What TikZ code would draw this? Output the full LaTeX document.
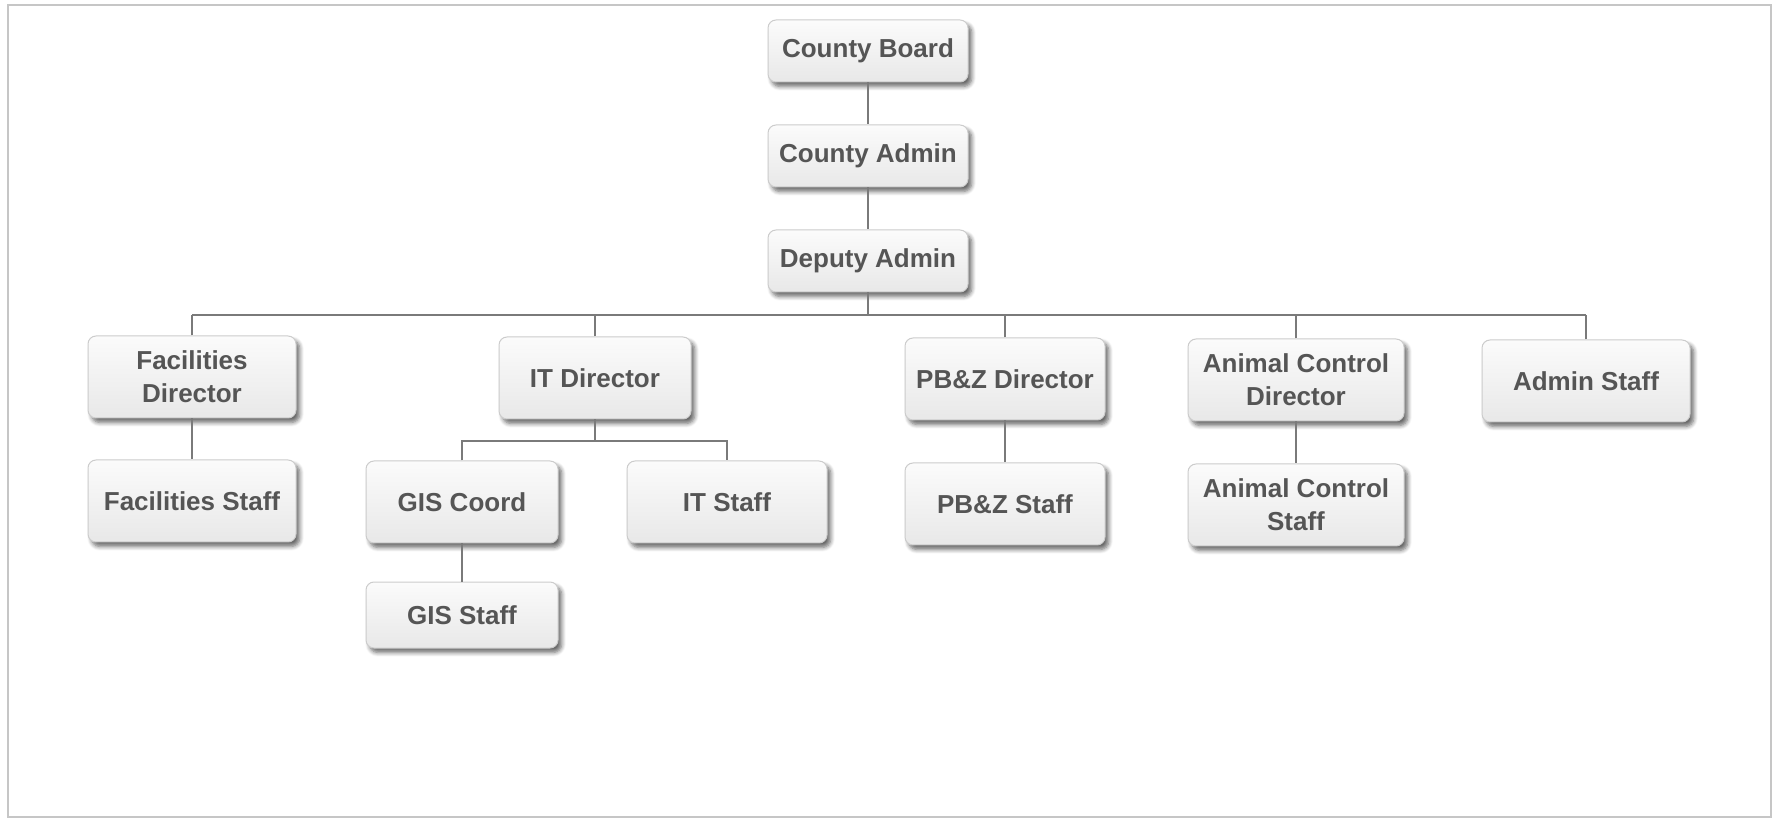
\documentclass[tikz,border=0pt]{standalone}
\usepackage{fontspec}
\setmainfont{Liberation Sans}
\usetikzlibrary{shadows,shadows.blur}
\definecolor{inkgray}{HTML}{555555}
\definecolor{linegray}{HTML}{7A7A7A}
\tikzset{
  orgbox/.style={rounded corners=4pt, draw=gray!40, line width=0.5pt,
    top color=gray!3, bottom color=gray!18,
    blur shadow={shadow blur steps=6, shadow xshift=1.8pt, shadow yshift=-2.2pt, shadow opacity=60},
    text=inkgray, font=\bfseries\fontsize{13}{16.5}\selectfont, align=center,
    inner sep=0pt, minimum width=100pt, minimum height=31pt},
  tall/.style={minimum height=41pt},
  conn/.style={draw=linegray, line width=0.8pt},
  frame/.style={draw=gray!45, line width=1pt}
}
\begin{document}
\begin{tikzpicture}[x=0.5pt,y=-0.5pt]
  \useasboundingbox (0,0) rectangle (1775,822);
  \draw[frame] (8,5) rectangle (1771,817);

  % top of the chart
  \node[orgbox] (board) at (868,51) {County Board};
  \node[orgbox] (cadmin) at (868,156) {County Admin};
  \node[orgbox] (dadmin) at (868,261) {Deputy Admin};

  % directors
  \node[orgbox, tall, minimum width=104pt] (facdir) at (192,377) {Facilities\\Director};
  \node[orgbox, tall, minimum width=96pt] (itdir) at (595,378) {IT Director};
  \node[orgbox, tall, minimum width=100pt] (pbzdir) at (1005,379) {PB\&Z Director};
  \node[orgbox, tall, minimum width=108pt] (acdir) at (1296,380) {Animal Control\\Director};
  \node[orgbox, tall, minimum width=104pt] (adminstaff) at (1586,381) {Admin Staff};

  % staff
  \node[orgbox, tall, minimum width=104pt] (facstaff) at (192,501) {Facilities Staff};
  \node[orgbox, tall, minimum width=96pt] (giscoord) at (462,502) {GIS Coord};
  \node[orgbox, tall, minimum width=100pt] (itstaff) at (727,502) {IT Staff};
  \node[orgbox, minimum width=96pt, minimum height=33pt] (gisstaff) at (462,615) {GIS Staff};
  \node[orgbox, tall, minimum width=100pt] (pbzstaff) at (1005,504) {PB\&Z Staff};
  \node[orgbox, tall, minimum width=108pt] (acstaff) at (1296,505) {Animal Control\\Staff};

  % connectors
  \coordinate (bus) at (0,315);
  \coordinate (itbus) at (0,441);
  \draw[conn] (board) -- (cadmin);
  \draw[conn] (cadmin) -- (dadmin);
  \draw[conn] (dadmin.south) -- (dadmin.south |- bus);
  \draw[conn] (facdir.north |- bus) -- (adminstaff.north |- bus);
  \foreach \n in {facdir,itdir,pbzdir,acdir,adminstaff}
    \draw[conn] (\n.north) -- (\n.north |- bus);
  \draw[conn] (facdir) -- (facstaff);
  \draw[conn] (itdir.south) -- (itdir.south |- itbus);
  \draw[conn] (giscoord.north) |- (itdir.south |- itbus) -| (itstaff.north);
  \draw[conn] (giscoord) -- (gisstaff);
  \draw[conn] (pbzdir) -- (pbzstaff);
  \draw[conn] (acdir) -- (acstaff);
\end{tikzpicture}
\end{document}
